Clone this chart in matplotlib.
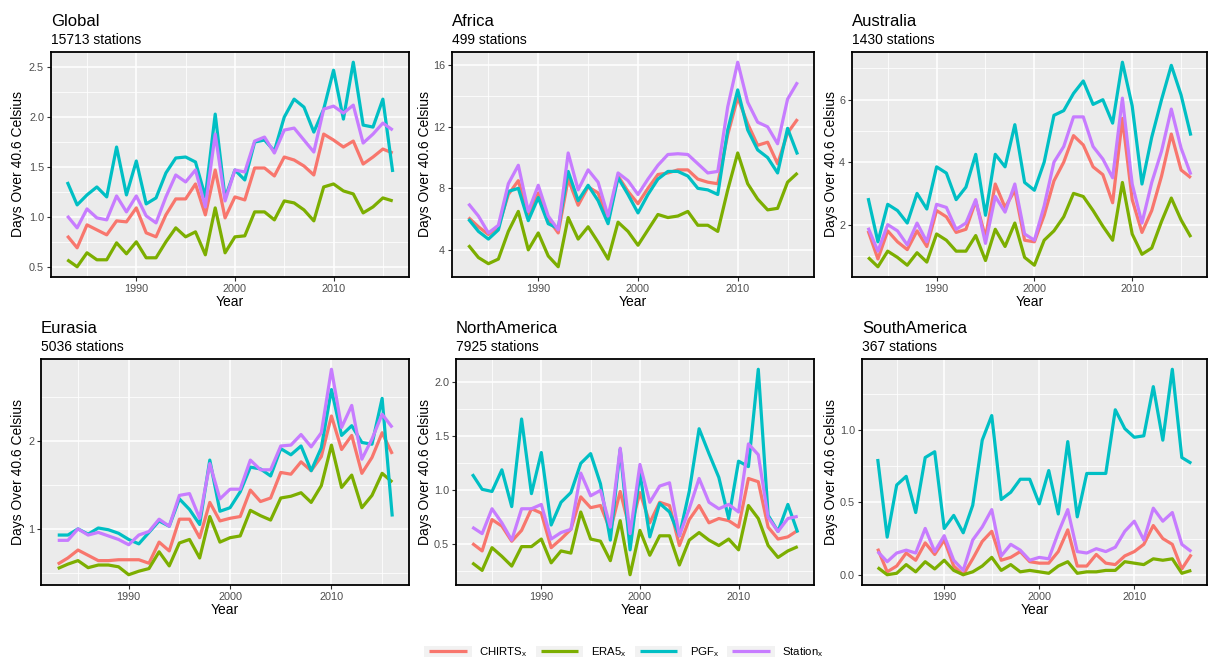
import matplotlib
matplotlib.use("Agg")
import matplotlib.pyplot as plt
from matplotlib import ticker
from matplotlib.lines import Line2D
from matplotlib.patches import Rectangle

plt.rcParams["font.family"] = ["Liberation Sans", "DejaVu Sans"]

years = list(range(1983, 2017))
products = ["CHIRTS", "ERA5", "PGF", "Station"]
colors = ["#F8766D", "#7CAE00", "#00BFC4", "#C77CFF"]

# ---- Global ----
global_chirts = [0.81, 0.69, 0.92, 0.87, 0.82, 0.96, 0.95, 1.09, 0.84, 0.80, 1.02, 1.18, 1.18, 1.33, 1.02, 1.47, 0.99,
                 1.20, 1.17, 1.49, 1.49, 1.41, 1.60, 1.57, 1.51, 1.42, 1.83, 1.77, 1.70, 1.76, 1.53, 1.60, 1.68, 1.64]
global_era5 = [0.57, 0.50, 0.64, 0.57, 0.57, 0.74, 0.63, 0.75, 0.59, 0.59, 0.75, 0.89, 0.80, 0.85, 0.62, 1.09, 0.64,
               0.80, 0.81, 1.05, 1.05, 0.97, 1.16, 1.14, 1.07, 0.96, 1.30, 1.33, 1.26, 1.23, 1.04, 1.10, 1.19, 1.16]
global_pgf = [1.35, 1.12, 1.22, 1.30, 1.20, 1.70, 1.22, 1.56, 1.13, 1.19, 1.44, 1.59, 1.60, 1.55, 1.20, 2.03, 1.19,
              1.47, 1.37, 1.75, 1.77, 1.66, 2.00, 2.18, 2.10, 1.85, 2.08, 2.47, 1.98, 2.55, 1.92, 1.90, 2.18, 1.45]
global_station = [1.01, 0.89, 1.08, 0.99, 0.97, 1.21, 1.05, 1.21, 1.01, 0.94, 1.20, 1.42, 1.35, 1.47, 1.10, 1.83, 1.16,
                  1.47, 1.45, 1.76, 1.80, 1.64, 1.87, 1.89, 1.77, 1.65, 2.08, 2.11, 2.04, 2.12, 1.74, 1.83, 1.94, 1.87]

# ---- Africa ----
africa_chirts = [6.1, 5.5, 5.0, 5.5, 7.6, 8.5, 6.2, 7.7, 6.0, 5.1, 8.6, 6.9, 8.1, 7.7, 5.9, 8.8, 7.8,
                 7.0, 8.0, 8.9, 9.0, 9.2, 9.2, 8.6, 8.4, 8.3, 11.5, 13.9, 12.2, 10.8, 11.0, 9.6, 11.6, 12.5]
africa_era5 = [4.3, 3.5, 3.1, 3.4, 5.2, 6.5, 4.0, 5.1, 3.6, 2.9, 6.1, 4.7, 5.5, 4.5, 3.4, 5.8, 5.2,
               4.3, 5.3, 6.3, 6.1, 6.2, 6.5, 5.6, 5.6, 5.2, 7.9, 10.3, 8.3, 7.3, 6.6, 6.7, 8.4, 9.0]
africa_pgf = [6.0, 5.2, 4.7, 5.3, 7.8, 8.0, 5.9, 7.4, 5.7, 5.4, 9.1, 7.2, 8.2, 7.2, 5.7, 8.7, 7.6,
              6.4, 7.6, 8.6, 9.1, 9.1, 8.8, 8.0, 7.9, 7.6, 11.8, 14.4, 11.8, 10.5, 10.0, 9.0, 11.9, 10.2]
africa_station = [7.0, 6.2, 5.1, 5.6, 8.3, 9.5, 6.5, 8.2, 6.2, 5.3, 10.3, 7.9, 9.2, 8.4, 6.2, 9.0, 8.5,
                  7.6, 8.6, 9.5, 10.2, 10.25, 10.2, 9.6, 9.0, 9.1, 13.3, 16.2, 13.6, 12.3, 12.0, 10.9, 13.8, 14.9]

# ---- Australia ----
australia_chirts = [1.8, 0.9, 1.8, 1.45, 1.2, 1.8, 1.3, 2.45, 2.25, 1.75, 1.85, 2.75, 1.6, 3.3, 2.55, 3.1, 1.5,
                    1.45, 2.3, 3.4, 4.0, 4.85, 4.55, 3.85, 3.6, 2.7, 5.4, 2.8, 1.75, 2.45, 3.55, 4.9, 3.75, 3.5]
australia_era5 = [0.95, 0.65, 1.15, 0.95, 0.7, 1.1, 0.8, 1.7, 1.5, 1.15, 1.15, 1.65, 0.85, 1.85, 1.3, 2.05, 0.95,
                  0.7, 1.5, 1.8, 2.25, 3.0, 2.9, 2.45, 1.95, 1.5, 3.35, 1.7, 1.05, 1.25, 2.1, 2.85, 2.15, 1.6]
australia_pgf = [2.85, 1.45, 2.65, 2.45, 2.05, 3.0, 2.5, 3.85, 3.65, 2.8, 3.2, 4.25, 2.3, 4.25, 3.85, 5.2, 3.35,
                 3.1, 4.0, 5.5, 5.65, 6.2, 6.6, 5.85, 6.0, 5.25, 7.2, 5.8, 3.3, 4.8, 6.0, 7.1, 6.15, 4.85]
australia_station = [1.9, 1.15, 2.0, 1.8, 1.35, 2.05, 1.45, 2.65, 2.55, 1.85, 2.05, 2.8, 1.4, 2.9, 2.4, 3.3, 1.7,
                     1.5, 2.6, 4.0, 4.5, 5.45, 5.45, 4.5, 4.1, 3.5, 6.05, 3.3, 2.05, 3.35, 4.35, 5.7, 4.45, 3.6]

# ---- Eurasia ----
eurasia_chirts = [0.60, 0.67, 0.76, 0.70, 0.64, 0.64, 0.65, 0.65, 0.65, 0.61, 0.85, 0.75, 1.11, 1.11, 0.90, 1.30, 1.09,
                  1.12, 1.14, 1.44, 1.31, 1.35, 1.64, 1.62, 1.76, 1.66, 1.82, 2.28, 1.90, 2.06, 1.63, 1.81, 2.09, 1.85]
eurasia_era5 = [0.55, 0.60, 0.64, 0.56, 0.59, 0.59, 0.57, 0.48, 0.52, 0.55, 0.74, 0.58, 0.84, 0.88, 0.67, 1.14, 0.85,
                0.90, 0.92, 1.21, 1.15, 1.10, 1.35, 1.37, 1.41, 1.30, 1.49, 1.95, 1.47, 1.61, 1.24, 1.38, 1.63, 1.53]
eurasia_pgf = [0.93, 0.93, 1.00, 0.94, 1.01, 0.99, 0.95, 0.88, 0.83, 0.96, 1.09, 1.03, 1.34, 1.22, 1.05, 1.78, 1.20,
               1.24, 1.42, 1.70, 1.68, 1.60, 1.91, 1.84, 1.94, 1.66, 1.92, 2.58, 2.06, 2.17, 1.98, 1.96, 2.48, 1.14]
eurasia_station = [0.87, 0.87, 1.00, 0.93, 0.96, 0.92, 0.88, 0.82, 0.93, 0.97, 1.11, 1.03, 1.38, 1.40, 1.12, 1.74, 1.34,
                   1.45, 1.45, 1.78, 1.67, 1.67, 1.94, 1.95, 2.07, 1.93, 2.09, 2.81, 2.15, 2.40, 1.79, 2.02, 2.30, 2.15]

# ---- North America ----
namerica_chirts = [0.51, 0.44, 0.73, 0.67, 0.53, 0.63, 0.83, 0.79, 0.47, 0.55, 0.64, 0.94, 0.84, 0.86, 0.63, 0.99, 0.63,
                   0.98, 0.70, 0.89, 0.86, 0.49, 0.73, 0.86, 0.70, 0.74, 0.72, 0.66, 1.11, 1.08, 0.66, 0.55, 0.57, 0.63]
namerica_era5 = [0.33, 0.26, 0.47, 0.39, 0.30, 0.48, 0.48, 0.55, 0.33, 0.44, 0.42, 0.80, 0.55, 0.53, 0.35, 0.72, 0.22,
                 0.63, 0.40, 0.58, 0.58, 0.31, 0.54, 0.61, 0.54, 0.49, 0.55, 0.45, 0.86, 0.74, 0.49, 0.38, 0.44, 0.48]
namerica_pgf = [1.15, 1.01, 0.99, 1.19, 0.85, 1.66, 0.97, 1.35, 0.68, 0.89, 0.98, 1.25, 1.34, 1.06, 0.54, 1.38, 0.45,
                1.16, 0.57, 0.88, 0.80, 0.58, 0.99, 1.57, 1.34, 1.12, 0.74, 1.27, 1.22, 2.12, 0.77, 0.62, 0.87, 0.61]
namerica_station = [0.66, 0.60, 0.83, 0.70, 0.54, 0.83, 0.83, 0.87, 0.55, 0.61, 0.64, 1.16, 0.95, 1.00, 0.66, 1.39, 0.60,
                    1.24, 0.89, 1.04, 1.07, 0.58, 0.83, 1.11, 0.89, 0.83, 0.87, 0.80, 1.43, 1.33, 0.75, 0.62, 0.74, 0.76]

# ---- South America ----
samerica_chirts = [0.18, 0.02, 0.06, 0.15, 0.10, 0.22, 0.14, 0.24, 0.06, 0.00, 0.11, 0.23, 0.30, 0.10, 0.12, 0.16, 0.09,
                   0.08, 0.08, 0.16, 0.31, 0.06, 0.06, 0.14, 0.08, 0.07, 0.13, 0.16, 0.21, 0.34, 0.25, 0.21, 0.04, 0.14]
samerica_era5 = [0.05, 0.00, 0.01, 0.07, 0.02, 0.09, 0.04, 0.10, 0.03, 0.00, 0.02, 0.06, 0.12, 0.03, 0.07, 0.02, 0.03,
                 0.02, 0.01, 0.06, 0.09, 0.01, 0.02, 0.02, 0.03, 0.03, 0.09, 0.08, 0.07, 0.11, 0.10, 0.11, 0.01, 0.03]
samerica_pgf = [0.80, 0.26, 0.62, 0.68, 0.43, 0.81, 0.85, 0.32, 0.41, 0.29, 0.48, 0.93, 1.10, 0.52, 0.57, 0.66, 0.66,
                0.49, 0.72, 0.42, 0.92, 0.40, 0.70, 0.70, 0.70, 1.14, 1.01, 0.95, 0.96, 1.30, 0.93, 1.42, 0.81, 0.77]
samerica_station = [0.16, 0.09, 0.15, 0.17, 0.15, 0.32, 0.16, 0.27, 0.10, 0.03, 0.24, 0.33, 0.45, 0.13, 0.21, 0.17, 0.10,
                    0.12, 0.11, 0.29, 0.45, 0.16, 0.15, 0.18, 0.16, 0.19, 0.30, 0.37, 0.24, 0.46, 0.37, 0.43, 0.21, 0.16]

region_names = ["Global", "Africa", "Australia", "Eurasia", "NorthAmerica", "SouthAmerica"]
station_counts = [15713, 499, 1430, 5036, 7925, 367]
region_series = [
    [global_chirts, global_era5, global_pgf, global_station],
    [africa_chirts, africa_era5, africa_pgf, africa_station],
    [australia_chirts, australia_era5, australia_pgf, australia_station],
    [eurasia_chirts, eurasia_era5, eurasia_pgf, eurasia_station],
    [namerica_chirts, namerica_era5, namerica_pgf, namerica_station],
    [samerica_chirts, samerica_era5, samerica_pgf, samerica_station],
]
# major y break step and label format per panel
y_steps = [0.5, 4, 2, 1, 0.5, 0.5]
y_formats = ["%.1f", "%d", "%d", "%d", "%.1f", "%.1f"]

# panel boxes in pixels: left, top, right, bottom; plus x of the y-label's right edge
W, H = 1210, 659
boxes = [
    (51, 52, 409, 277), (452, 52, 814, 277), (852, 52, 1207, 277),
    (41, 359, 409, 585), (456, 359, 814, 585), (862, 359, 1207, 585),
]
ylabel_x = [25.5, 431.5, 837.5, 25.5, 431.5, 837.5]


class KeyHandler:
    """ggplot-like legend key: grey box with a shorter line in it."""

    def legend_artist(self, legend, orig_handle, fontsize, handlebox):
        x0, y0 = -handlebox.xdescent, -handlebox.ydescent
        w, h = handlebox.width, handlebox.height
        bg = Rectangle((x0, y0), w, h, facecolor="#F2F2F2", edgecolor="none",
                       transform=handlebox.get_transform())
        ln = Line2D([x0 + 0.11 * w, x0 + 0.89 * w], [y0 + h / 2, y0 + h / 2],
                    color=orig_handle.get_color(), lw=orig_handle.get_linewidth(),
                    solid_capstyle="butt", transform=handlebox.get_transform())
        handlebox.add_artist(bg)
        handlebox.add_artist(ln)
        return ln


fig = plt.figure(figsize=(W / 100, H / 100), dpi=100)

for name, count, series, step, fmt, box, lx in zip(region_names, station_counts, region_series,
                                                     y_steps, y_formats, boxes, ylabel_x):
    x0, y0, x1, y1 = box
    ax = fig.add_axes([x0 / W, 1 - y1 / H, (x1 - x0) / W, (y1 - y0) / H])
    ax.set_facecolor("#EBEBEB")
    for vals, c in zip(series, colors):
        ax.plot(years, vals, color=c, lw=2.3, solid_joinstyle="round", solid_capstyle="butt")

    lo = min(min(s) for s in series)
    hi = max(max(s) for s in series)
    pad = 0.05 * (hi - lo)
    ax.set_ylim(lo - pad, hi + pad)
    xpad = 0.05 * (years[-1] - years[0])
    ax.set_xlim(years[0] - xpad, years[-1] + xpad)

    ax.xaxis.set_major_locator(ticker.MultipleLocator(10))
    ax.xaxis.set_minor_locator(ticker.MultipleLocator(5))
    ax.yaxis.set_major_locator(ticker.MultipleLocator(step))
    ax.yaxis.set_minor_locator(ticker.MultipleLocator(step / 2))
    ax.yaxis.set_major_formatter(ticker.FormatStrFormatter(fmt))

    ax.set_axisbelow(True)
    ax.grid(which="major", color="white", lw=1.1)
    ax.grid(which="minor", color="white", lw=0.55)
    ax.tick_params(which="major", length=3, width=0.8, color="#333333",
                   labelcolor="#4D4D4D", labelsize=7.8, pad=2)
    ax.tick_params(which="minor", length=0)
    for sp in ax.spines.values():
        sp.set_color("black")
        sp.set_linewidth(1.3)

    ax.set_xlabel("Year", fontsize=10, labelpad=1)
    ax.set_ylabel("Days Over 40.6 Celsius", fontsize=10)
    ax.yaxis.set_label_coords((lx - x0) / (x1 - x0), 0.5)

    fig.text(x0 / W, 1 - (y0 - 26) / H, name, fontsize=12, va="baseline", ha="left")
    fig.text(x0 / W, 1 - (y0 - 8) / H, f"{count} stations", fontsize=10, va="baseline", ha="left")

handles = [Line2D([], [], color=c, lw=2.3) for c in colors]
labels = [r"$\mathregular{" + p + r"_x}$" for p in products]
fig.legend(handles, labels, handler_map={Line2D: KeyHandler()},
           loc="center", bbox_to_anchor=(624 / W, 1 - 652 / H), ncol=4, frameon=False,
           fontsize=8.2, handlelength=4.2, handleheight=1.15, columnspacing=0.7,
           handletextpad=0.65, borderpad=0.2)

fig.savefig("out.png", dpi=100)
